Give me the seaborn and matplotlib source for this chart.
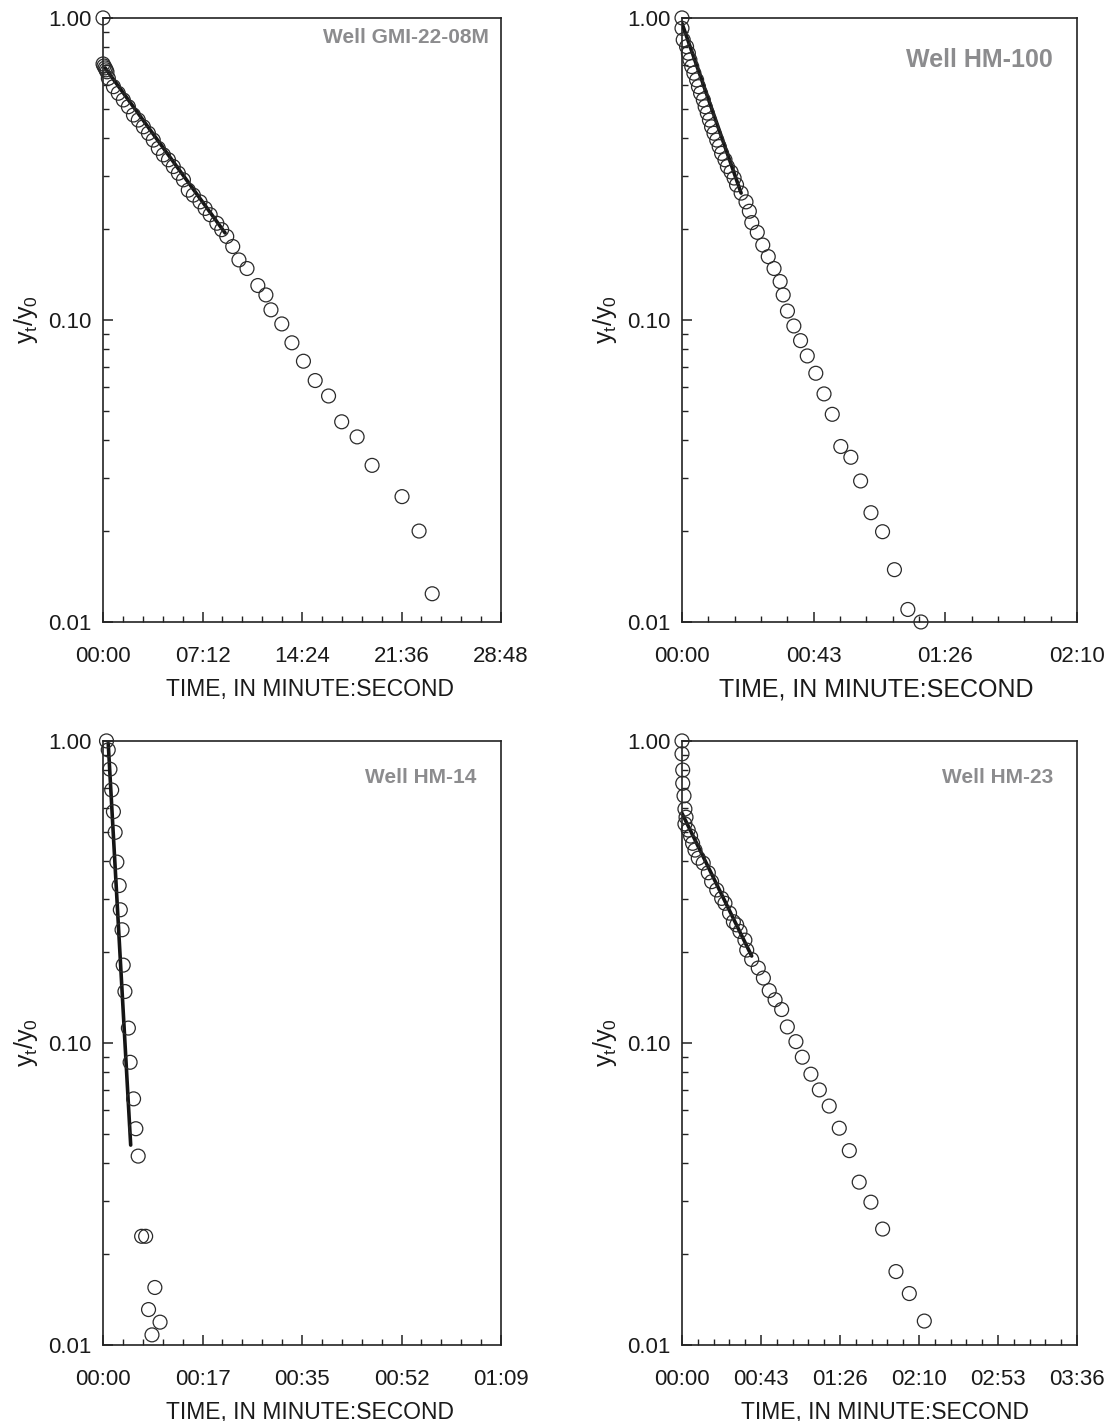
import numpy as np
import pandas as pd
import matplotlib
matplotlib.use("Agg")
import matplotlib.pyplot as plt
import matplotlib.ticker as mticker
import seaborn as sns

# ---------------- data (time in seconds, normalized head y_t/y_0) ----------------
gmi_t = [0, 0, 4, 9, 13, 17, 23, 45, 66, 88, 110, 132, 153, 175, 197, 218, 240, 262,
         284, 305, 327, 349, 370, 392, 421, 443, 465, 494, 515, 537, 563, 590, 625,
         672, 707, 729, 776, 820, 870, 921, 979, 1036, 1103, 1168, 1298, 1372, 1429]
gmi_y = [1.00, 0.704, 0.693, 0.683, 0.673, 0.663, 0.631, 0.592, 0.563, 0.535, 0.508,
         0.477, 0.459, 0.436, 0.415, 0.394, 0.370, 0.352, 0.339, 0.322, 0.306, 0.291,
         0.269, 0.259, 0.246, 0.234, 0.223, 0.209, 0.199, 0.189, 0.175, 0.158, 0.148,
         0.130, 0.121, 0.108, 0.097, 0.084, 0.073, 0.063, 0.056, 0.046, 0.041, 0.033,
         0.026, 0.020, 0.0124]
gmi_fit_t = [9, 530]
gmi_fit_y = [0.683, 0.194]

hm100_t = [0, 0, 0.4, 1.5, 2.1, 2.6, 3.2, 3.9, 4.8, 5.4, 6.1, 7.0, 7.6, 8.3, 9.0, 9.7,
           10.5, 11.4, 12.2, 13.0, 14.1, 14.9, 16.1, 17.1, 17.9, 19.4, 21.0, 22.1,
           22.9, 24.7, 26.5, 28.3, 30.2, 32.2, 33.2, 34.6, 36.7, 38.9, 41.1, 43.9,
           46.6, 49.3, 52.1, 55.4, 58.6, 62.0, 65.8, 69.7, 74.1, 78.4]
hm100_y = [1.00, 0.924, 0.846, 0.803, 0.764, 0.726, 0.690, 0.656, 0.623, 0.592, 0.563,
           0.535, 0.508, 0.484, 0.459, 0.436, 0.415, 0.394, 0.375, 0.356, 0.339, 0.322,
           0.309, 0.295, 0.280, 0.263, 0.246, 0.229, 0.210, 0.195, 0.177, 0.162, 0.148,
           0.134, 0.121, 0.107, 0.0955, 0.0854, 0.0760, 0.0666, 0.0569, 0.0487, 0.0381,
           0.0351, 0.0293, 0.0230, 0.0199, 0.0149, 0.0110, 0.0100]
hm100_fit_t = [0, 19.4]
hm100_fit_y = [0.960, 0.263]

hm14_t = [0.6, 0.9, 1.2, 1.5, 1.8, 2.1, 2.4, 2.8, 3.0, 3.3, 3.5, 3.8, 4.4, 4.7, 5.3,
          5.7, 6.1, 6.7, 7.4, 9.0, 7.9, 9.9, 8.5]
hm14_y = [1.00, 0.934, 0.806, 0.688, 0.583, 0.498, 0.397, 0.332, 0.276, 0.237, 0.181,
          0.148, 0.112, 0.0863, 0.0653, 0.0520, 0.0422, 0.0229, 0.0229, 0.0155, 0.0131,
          0.0119, 0.0108]
hm14_fit_t = [0.9, 4.8]
hm14_fit_y = [0.98, 0.0459]

hm23_t = [0, 0, 0.4, 0.4, 1.1, 1.6, 2.2, 1.6, 3.4, 4.7, 5.8, 7.1, 8.9, 11.6, 14.4, 16.2,
          19.0, 21.7, 23.5, 26.0, 28.1, 29.9, 31.7, 34.4, 35.4, 38.1, 41.7, 44.5, 47.7,
          50.9, 54.5, 57.6, 62.3, 65.8, 70.5, 75.1, 80.5, 86.0, 91.5, 96.9, 103.3,
          109.7, 117.0, 124.3, 132.5]
hm23_y = [1.00, 0.906, 0.801, 0.724, 0.658, 0.595, 0.559, 0.531, 0.507, 0.484, 0.458,
          0.435, 0.409, 0.394, 0.366, 0.342, 0.321, 0.301, 0.290, 0.269, 0.252, 0.246,
          0.234, 0.219, 0.203, 0.189, 0.177, 0.164, 0.149, 0.139, 0.129, 0.113, 0.101,
          0.0897, 0.0788, 0.0699, 0.0618, 0.0522, 0.0440, 0.0346, 0.0297, 0.0242,
          0.0175, 0.0148, 0.0120]
hm23_fit_t = [0, 38.1]
hm23_fit_y = [0.576, 0.194]

well_names = ["Well GMI-22-08M", "Well HM-100", "Well HM-14", "Well HM-23"]
x_max = [1728, 129.6, 69.12, 216]      # axis end, seconds
x_ndiv = [4, 3, 4, 5]                  # number of labelled intervals
y_ticks = [0.01, 0.1, 1.0]
y_ticklabels = ["0.01", "0.10", "1.00"]
x_label = "TIME, IN MINUTE:SECOND"
y_label = r"$\mathregular{y_t/y_0}$"

series = [(gmi_t, gmi_y, gmi_fit_t, gmi_fit_y),
          (hm100_t, hm100_y, hm100_fit_t, hm100_fit_y),
          (hm14_t, hm14_y, hm14_fit_t, hm14_fit_y),
          (hm23_t, hm23_y, hm23_fit_t, hm23_fit_y)]

# ---------------- style ----------------
sns.set_theme(style="ticks")
plt.rcParams["font.family"] = ["Liberation Sans", "DejaVu Sans"]
plt.rcParams["mathtext.fontset"] = "custom"
plt.rcParams["mathtext.rm"] = "Liberation Sans"
plt.rcParams["mathtext.it"] = "Liberation Sans"

fig = plt.figure(figsize=(11.14, 14.21), dpi=100)
rects = [[0.0925, 0.5623, 0.3573, 0.4251],
         [0.6122, 0.5623, 0.3546, 0.4251],
         [0.0925, 0.0535, 0.3573, 0.4251],
         [0.6122, 0.0535, 0.3546, 0.4251]]
title_pos = [(0.970, 0.968), (0.939, 0.930), (0.937, 0.939), (0.939, 0.939)]
title_size = [15, 18, 15, 15]
xlabel_size = [16.5, 18, 16.5, 16.5]
xlabel_x = [0.52, 0.492, 0.52, 0.515]
xlabel_y = -0.092

def mmss(v, pos=None):
    s = int(round(v))
    return f"{s // 60:02d}:{s % 60:02d}"

for i, (t, y, ft, fy) in enumerate(series):
    ax = fig.add_axes(rects[i])
    df = pd.DataFrame({"t": t, "y": y})
    fit = pd.DataFrame({"t": ft, "y": fy})
    sns.lineplot(data=fit, x="t", y="y", ax=ax, color="#151515", lw=2.6,
                 estimator=None, sort=False, zorder=3)
    sns.scatterplot(data=df, x="t", y="y", ax=ax, s=100, marker="o",
                    facecolor="none", edgecolor="#2a2a2a", linewidth=0.9,
                    clip_on=False, zorder=4)
    ax.set_yscale("log")
    ax.set_ylim(0.01, 1.0)
    ax.set_xlim(0, x_max[i])
    ax.set_xticks(np.linspace(0, x_max[i], x_ndiv[i] + 1))
    ax.xaxis.set_major_formatter(mticker.FuncFormatter(mmss))
    ax.xaxis.set_minor_locator(mticker.AutoMinorLocator(5))
    ax.set_yticks(y_ticks)
    ax.set_yticklabels(y_ticklabels)
    ax.yaxis.set_minor_locator(mticker.LogLocator(base=10, subs=np.arange(2, 10)))
    ax.yaxis.set_minor_formatter(mticker.NullFormatter())
    ax.tick_params(which="major", direction="in", length=7, width=1.1,
                   color="#222222", labelsize=16, labelcolor="#1a1a1a")
    ax.tick_params(which="minor", direction="in", length=4, width=1.0,
                   color="#222222")
    ax.tick_params(axis="x", which="major", pad=17)
    ax.tick_params(axis="y", which="major", pad=8)
    for sp in ax.spines.values():
        sp.set_visible(True)
        sp.set_color("#222222")
        sp.set_linewidth(1.2)
    ax.set_xlabel(x_label, fontsize=xlabel_size[i], color="#1a1a1a")
    ax.xaxis.set_label_coords(xlabel_x[i], xlabel_y)
    ax.set_ylabel(y_label, fontsize=18, color="#1a1a1a", labelpad=6)
    ax.text(title_pos[i][0], title_pos[i][1], well_names[i], transform=ax.transAxes,
            ha="right", va="center", fontsize=title_size[i], fontweight="bold",
            color="#8c8c8e")

fig.savefig("out.png", dpi=100)
